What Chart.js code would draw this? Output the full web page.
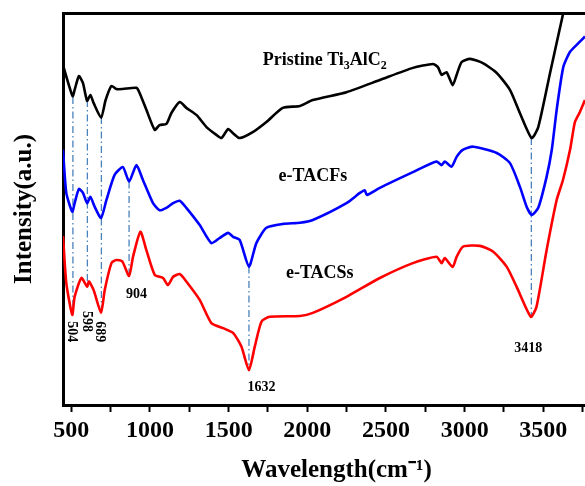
<!DOCTYPE html>
<html><head><meta charset="utf-8">
<script src="https://cdn.jsdelivr.net/npm/chart.js@4"></script>
<style>
html,body{margin:0;padding:0;overflow:hidden;background:#fff;width:585px;height:486px;}
#wrap{width:610px;height:486px;}
</style></head><body>
<div id="wrap"><canvas id="c" width="610" height="486"></canvas></div>
<script>
// ---- data (wavenumber, cm-1 / intensity, a.u.) ----
const pristineWN = [447,468,508,521,548,574,600,621,642,689,718,755,786,826,914,934,977,1030,1061,1104,1136,1189,1231,1295,1359,1422,1454,1497,1526,1570,1653,1740,1844,1953,2035,2249,2461,2671,2798,2830,2854,2885,2924,2949,2981,3034,3116,3204,3288,3351,3426,3468,3543,3627,3670];
const pristineI  = [86.7,83.8,78.8,80.4,83.9,82.1,77.6,79.1,77.0,73.3,77.8,81.4,80.6,80.6,80.9,79.6,75.3,70.2,71.4,71.7,74.5,77.3,75.8,74.0,70.9,68.9,68.1,70.4,69.4,68.1,69.6,72.2,75.8,76.3,77.8,79.8,82.9,86.0,87.0,86.2,84.2,84.9,81.6,84.2,87.5,88.3,87.2,84.7,80.4,74.5,68.1,70.9,84.7,100,107];

const tacfWN = [447,468,506,521,548,574,600,621,648,689,723,775,828,867,914,955,1019,1061,1104,1147,1189,1231,1316,1390,1443,1497,1528,1570,1629,1676,1740,1846,1953,2035,2249,2334,2365,2378,2461,2671,2821,2854,2874,2917,2949,2988,3054,3204,3288,3351,3394,3426,3468,3521,3554,3585,3627,3670,3723,3765];
const tacfI  = [65.1,54.1,49.3,51.5,55.1,54.1,51.5,53.1,50.6,47.7,52.3,58.7,60.7,57.0,61.2,57.4,51.5,49.7,50.3,51.5,52.1,50.3,45.9,41.3,42.6,43.9,42.9,42.1,35.3,41.3,45.2,46.2,46.5,47.2,51.5,54.1,54.8,53.6,55.4,59.4,62.1,61.2,62.1,60.8,63.3,65.1,65.9,64.3,61.7,55.7,50.6,48.5,50.3,58.2,65.1,75.3,86.2,90.1,92.3,94.0];

const tacsWN = [447,468,506,521,564,600,612,642,689,712,755,786,824,867,892,939,977,1030,1083,1114,1147,1189,1231,1316,1390,1464,1528,1581,1629,1666,1709,1761,1953,2035,2249,2461,2671,2821,2854,2874,2924,2949,2990,3097,3182,3267,3330,3421,3457,3521,3585,3625,3670,3701,3732,3765];
const tacsI  = [43.1,31.1,23.0,27.6,32.4,30.2,31.5,29.3,23.5,29.3,36.2,37.0,36.6,32.9,37.8,44.2,39.5,33.2,32.4,30.6,32.7,33.4,31.5,26.8,20.9,19.6,18.4,14.9,8.9,14.9,21.3,22.5,22.7,23.5,27.6,32.4,36.2,37.8,36.2,37.5,35.2,37.8,40.4,40.6,39.1,35.3,30.2,22.5,25.1,39.5,52.3,57.4,65.1,72.2,74.7,77.8];

// peak marker lines (position) and their labels
const markerWN     = [510,602,691,867,1629,3424];
const markerTop    = [78.6,77.8,73.5,57.0,35.3,68.1];
const markerBottom = [23.0,30.2,23.5,32.9,8.9,22.5];
const peakLabels   = ['504','598','689','904','1632','3418'];

// x axis ticks: all tick marks, and the ones that carry a label
const xTickValues = [500,750,1000,1250,1500,1750,2000,2250,2500,2750,3000,3250,3500,3750];
const xTickLabels = [500,1000,1500,2000,2500,3000,3500];
const seriesNames = ['Pristine Ti3AlC2','e-TACFs','e-TACSs'];

// ---- label placement (data coordinates) ----
const peakLabelAt = [
  {x:500, y:18.7, rot:true},
  {x:599, y:21.3, rot:true},
  {x:680, y:18.7, rot:true},
  {x:914, y:28.1, rot:false},
  {x:1709,y:4.6,  rot:false},
  {x:3404,y:14.5, rot:false}
];
const seriesLabelAt = [
  {x:2111, y:88.3, parts:[['Pristine Ti',0],['3',1],['AlC',0],['2',1]]},
  {x:2035, y:58.7, parts:[['e-TACFs',0]]},
  {x:2079, y:33.9, parts:[['e-TACSs',0]]}
];

const toPts = (xs, ys) => xs.map((v,i)=>({x:v, y:ys[i]}));
const FONT = "'Liberation Serif','Times New Roman',serif";

const curveStyle = (c)=>({borderColor:c, backgroundColor:c, borderWidth:2.6, pointRadius:0, tension:0.2, fill:false});
const datasets = [
  {label:seriesNames[0], data:toPts(pristineWN,pristineI), ...curveStyle('#000000')},
  {label:seriesNames[1], data:toPts(tacfWN,tacfI), ...curveStyle('#0000ff')},
  {label:seriesNames[2], data:toPts(tacsWN,tacsI), ...curveStyle('#ff0000')},
];
markerWN.forEach((w,i)=>{
  datasets.push({label:'peak '+peakLabels[i], data:[{x:w,y:markerTop[i]},{x:w,y:markerBottom[i]}],
    borderColor:'#4a82bd', borderWidth:1.3, borderDash:[7,3,1.5,3], pointRadius:0, fill:false, tension:0});
});

const textPlugin = {
  id:'texts',
  afterDatasetsDraw(chart){
    const {ctx, scales:{x,y}} = chart;
    ctx.save();
    ctx.fillStyle = '#000';
    ctx.font = `bold 14px ${FONT}`;
    ctx.textAlign = 'center'; ctx.textBaseline = 'middle';
    peakLabelAt.forEach((p,i)=>{
      const px = x.getPixelForValue(p.x), py = y.getPixelForValue(p.y);
      ctx.save(); ctx.translate(px,py);
      if (p.rot) ctx.rotate(Math.PI/2);
      ctx.fillText(peakLabels[i],0,0);
      ctx.restore();
    });
    seriesLabelAt.forEach(s=>{
      const big = `bold 18px ${FONT}`, small = `bold 12px ${FONT}`;
      let w = 0;
      s.parts.forEach(([t,sub])=>{ctx.font = sub?small:big; w += ctx.measureText(t).width;});
      let cx = x.getPixelForValue(s.x) - w/2;
      const cy = y.getPixelForValue(s.y);
      ctx.textAlign = 'left'; ctx.textBaseline = 'alphabetic';
      s.parts.forEach(([t,sub])=>{
        ctx.font = sub?small:big;
        ctx.fillText(t, cx, cy + 6 + (sub?4:0));
        cx += ctx.measureText(t).width;
      });
    });
    ctx.restore();
  }
};

new Chart(document.getElementById('c'), {
  type:'line',
  data:{datasets},
  options:{
    responsive:false, animation:false,
    layout:{padding:{top:13,left:0,right:0,bottom:0}},
    plugins:{legend:{display:false}, tooltip:{enabled:false}},
    scales:{
      x:{type:'linear', position:'bottom', min:447, max:3924,
        afterBuildTicks:(s)=>{ s.ticks = xTickValues.map(v=>({value:v})); },
        ticks:{autoSkip:false, maxRotation:0, minRotation:0, padding:4, color:'#000',
          font:{family:FONT, size:24, weight:'bold'},
          callback:(v)=> xTickLabels.includes(v) ? String(v) : ''},
        grid:{display:true, drawOnChartArea:false, drawTicks:true, tickLength:7, tickWidth:2, tickColor:'#000'},
        border:{display:true, color:'#000', width:3},
        title:{display:true, text:'Wavelength(cm⁻¹)', color:'#000', padding:{top:0,bottom:0},
          font:{family:FONT, size:25, weight:'bold'}},
        afterFit:(s)=>{s.height = 81;}
      },
      x2:{type:'linear', position:'top', min:447, max:3924,
        ticks:{display:false}, grid:{display:true, drawOnChartArea:false, drawTicks:false},
        border:{display:true, color:'#000', width:3},
        afterFit:(s)=>{s.height = 0;}
      },
      y:{type:'linear', min:0, max:100,
        ticks:{display:false}, grid:{display:true, drawOnChartArea:false, drawTicks:false},
        border:{display:true, color:'#000', width:3},
        title:{display:true, text:'Intensity(a.u.)', color:'#000', padding:{top:10,bottom:0},
          font:{family:FONT, size:25, weight:'bold'}},
        afterFit:(s)=>{s.width = 63;}
      }
    }
  },
  plugins:[textPlugin]
});
</script>
</body></html>
